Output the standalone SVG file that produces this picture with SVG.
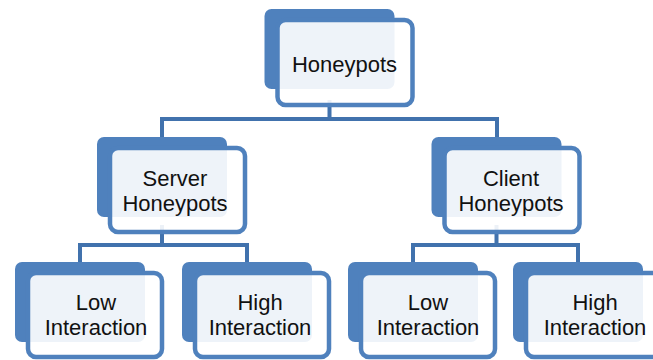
<svg xmlns="http://www.w3.org/2000/svg" width="653" height="360" viewBox="0 0 653 360">
<style>
.back{fill:#4F81BD}
.front{fill:#FFFFFF;fill-opacity:0.9;stroke:#4F81BD;stroke-width:4.5}
.conn{fill:none;stroke:#4172AD;stroke-width:4}
text{font-family:"Liberation Sans",Arial,sans-serif;font-size:22px;fill:#111;text-anchor:middle}
</style>
<g id="connectors">
<path class="conn" d="M329.5,100 V119 M162,119 H497 M162,117 V140 M497,117 V140"/>
<path class="conn" d="M162,225 V245 M80,245 H247 M80,243 V265 M247,243 V265"/>
<path class="conn" d="M496.5,225 V245 M413,245 H578 M413,243 V265 M578,243 V265"/>
</g>
<g id="honeypots">
<rect class="back" x="264.5" y="9" width="130" height="80" rx="7"/>
<rect class="front" x="277.5" y="20" width="135" height="85" rx="8"/>
<text x="344.5" y="72">Honeypots</text>
</g>
<g id="server">
<rect class="back" x="97" y="137" width="130" height="80" rx="7"/>
<rect class="front" x="110" y="148" width="135" height="84" rx="8"/>
<text x="175" y="186">Server</text>
<text x="175" y="211">Honeypots</text>
</g>
<g id="client">
<rect class="back" x="431.5" y="137" width="130" height="80" rx="7"/>
<rect class="front" x="444.5" y="148" width="135" height="84" rx="8"/>
<text x="511" y="186">Client</text>
<text x="511" y="211">Honeypots</text>
</g>
<g id="server-low">
<rect class="back" x="15" y="262" width="130" height="80" rx="7"/>
<rect class="front" x="28" y="273" width="134" height="84" rx="8"/>
<text x="96" y="310">Low</text>
<text x="96" y="335">Interaction</text>
</g>
<g id="server-high">
<rect class="back" x="182" y="262" width="130" height="80" rx="7"/>
<rect class="front" x="195" y="273" width="134" height="84" rx="8"/>
<text x="260" y="310">High</text>
<text x="260" y="335">Interaction</text>
</g>
<g id="client-low">
<rect class="back" x="348" y="262" width="130" height="80" rx="7"/>
<rect class="front" x="361" y="273" width="134" height="84" rx="8"/>
<text x="428" y="310">Low</text>
<text x="428" y="335">Interaction</text>
</g>
<g id="client-high">
<rect class="back" x="513" y="262" width="130" height="80" rx="7"/>
<rect class="front" x="526" y="273" width="134" height="84" rx="8"/>
<text x="595" y="310">High</text>
<text x="595" y="335">Interaction</text>
</g>
</svg>
